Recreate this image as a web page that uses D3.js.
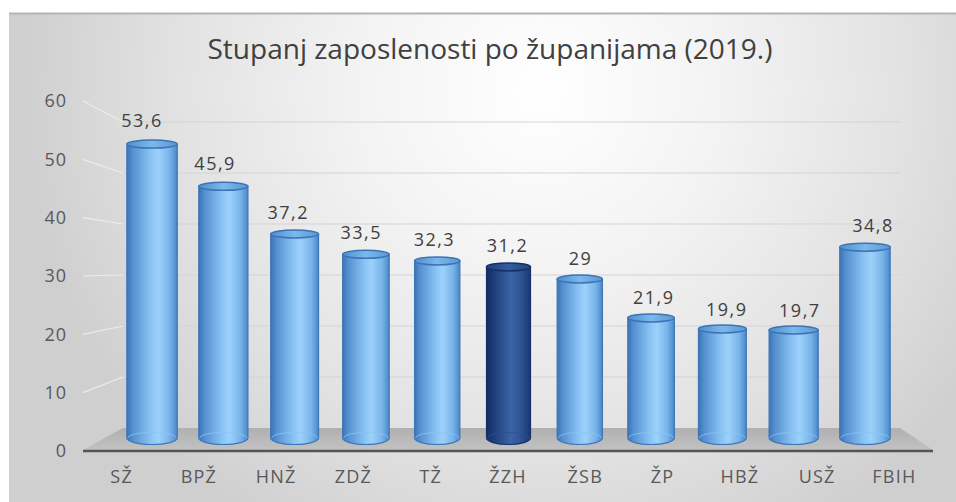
<!DOCTYPE html>
<html><head><meta charset="utf-8">
<script src="https://cdn.jsdelivr.net/npm/d3@7"></script>
<style>html,body{margin:0;padding:0;background:#fff;}svg{display:block;}</style>
</head><body>
<script>
const title = "Stupanj zaposlenosti po županijama (2019.)";
const categories = ["SŽ","BPŽ","HNŽ","ZDŽ","TŽ","ŽZH","ŽSB","ŽP","HBŽ","USŽ","FBIH"];
const values = [53.6,45.9,37.2,33.5,32.3,31.2,29,21.9,19.9,19.7,34.8];
const valueLabels = ["53,6","45,9","37,2","33,5","32,3","31,2","29","21,9","19,9","19,7","34,8"];
const highlighted = ["ŽZH"];
const yTicks = [0,10,20,30,40,50,60];

const W = 956, H = 502;
const svg = d3.select("body").append("svg").attr("width", W).attr("height", H);
const defs = svg.append("defs");

const bg = defs.append("radialGradient").attr("id","bg").attr("gradientUnits","userSpaceOnUse")
  .attr("cx",540).attr("cy",90).attr("r",520).attr("fx",540).attr("fy",90);
bg.append("stop").attr("offset","0%").attr("stop-color","#ffffff");
bg.append("stop").attr("offset","35%").attr("stop-color","#f3f3f3");
bg.append("stop").attr("offset","70%").attr("stop-color","#e2e2e2");
bg.append("stop").attr("offset","100%").attr("stop-color","#cfcfcf");

function cylGrad(id, stops){
  const g = defs.append("linearGradient").attr("id",id).attr("x1","0%").attr("x2","100%").attr("y1","0%").attr("y2","0%");
  stops.forEach(s=>g.append("stop").attr("offset",s[0]).attr("stop-color",s[1]));
}
cylGrad("cyl",[["0%","#3c74b4"],["12%","#5590d0"],["45%","#86c0f2"],["62%","#9dd1fb"],["85%","#78b4e9"],["100%","#4b87c8"]]);
cylGrad("cylH",[["0%","#132c5e"],["15%","#1d3c78"],["55%","#3a64a6"],["75%","#2f5797"],["100%","#1a3873"]]);
cylGrad("topG",[["0%","#4f8fd0"],["50%","#7db8ec"],["100%","#5a98d6"]]);
cylGrad("topH",[["0%","#1f3f7a"],["50%","#335d9e"],["100%","#24467f"]]);

const floorG = defs.append("linearGradient").attr("id","floor").attr("x1","0").attr("x2","0").attr("y1","0").attr("y2","1");
floorG.append("stop").attr("offset","0%").attr("stop-color","#b0b0b0");
floorG.append("stop").attr("offset","100%").attr("stop-color","#c2c2c2");

// background frame
svg.append("rect").attr("x",9).attr("y",13).attr("width",W-9).attr("height",H-13).attr("fill","url(#bg)");
svg.append("line").attr("x1",9).attr("x2",W).attr("y1",13.5).attr("y2",13.5).attr("stroke","#b4b4b4").attr("stroke-width",2);

// scales
const xFront = d3.scaleBand().domain(categories).range([83,933]);
const xBack  = d3.scaleBand().domain(categories).range([123,900]);
const xBar   = d3.scaleBand().domain(categories).range([116.4,900.6]);
const xLab   = d3.scaleBand().domain(categories).range([105.5,909.5]);
const yFront = d3.scaleLinear().domain([0,60]).range([451,101]);
const yBack  = d3.scaleLinear().domain([0,60]).range([428,122]);
const yBar   = d3.scaleLinear().domain([0,60]).range([438,109]);
const yLab   = d3.scaleLinear().domain([0,60]).range([421,84.4]);

// title
svg.append("text").attr("x",490).attr("y",59).attr("text-anchor","middle")
  .attr("font-family","'Open Sans', sans-serif").attr("font-size",28).attr("fill","#404040")
  .text(title);

// back wall gridlines & side wall lines
const grid = svg.append("g");
yTicks.filter(t=>t>0).forEach(t=>{
  grid.append("line").attr("x1",xBack.range()[0]).attr("x2",xBack.range()[1])
    .attr("y1",yBack(t)).attr("y2",yBack(t)).attr("stroke","#d4d4d4").attr("stroke-width",1.2);
  grid.append("line").attr("x1",xFront.range()[0]).attr("x2",xBack.range()[0])
    .attr("y1",yFront(t)).attr("y2",yBack(t)).attr("stroke","#ececec").attr("stroke-width",1.2);
});

// floor
const f0 = xFront.range(), b0 = xBack.range();
svg.append("path").attr("d",`M${f0[0]},${yFront(0)-1}L${b0[0]},${yBack(0)}L${b0[1]},${yBack(0)}L${f0[1]},${yFront(0)-1}Z`)
  .attr("fill","url(#floor)");
svg.append("line").attr("x1",f0[0]).attr("x2",f0[1]).attr("y1",yFront(0)).attr("y2",yFront(0))
  .attr("stroke","#555555").attr("stroke-width",2.5);

// y tick labels
svg.append("g").selectAll("text").data(yTicks).join("text")
  .attr("x",67).attr("y",d=>yFront(d)).attr("dy","0.35em").attr("text-anchor","end")
  .attr("font-family","'Open Sans', sans-serif").attr("font-size",18).attr("letter-spacing",1).attr("fill","#595959")
  .text(d=>d);

// x labels
svg.append("g").selectAll("text").data(categories).join("text")
  .attr("x",d=>xFront(d)+xFront.bandwidth()/2).attr("y",483).attr("text-anchor","middle")
  .attr("font-family","'Open Sans', sans-serif").attr("font-size",18).attr("letter-spacing",1.2).attr("fill","#595959")
  .text(d=>d);

// cylinders
const mid = xBar("ŽZH")+xBar.bandwidth()/2;
const bars = svg.append("g");
categories.forEach((c,i)=>{
  const v = values[i];
  const cx = xBar(c)+xBar.bandwidth()/2;
  const w = 44 + 0.018*Math.abs(cx-mid);
  const rx = w/2, ryT = 4, ryB = 6.5;
  const top = yBar(v), bot = yBar(0);
  const hi = highlighted.includes(c);
  const g = bars.append("g");
  g.append("path")
    .attr("d",`M${cx-rx},${top}L${cx-rx},${bot}A${rx},${ryB} 0 0 0 ${cx+rx},${bot}L${cx+rx},${top}Z`)
    .attr("fill",hi?"url(#cylH)":"url(#cyl)")
    .attr("stroke",hi?"#163066":"#3d77b8").attr("stroke-width",1.2);
  g.append("path")
    .attr("d",`M${cx-rx+1},${bot}A${rx-1},${ryB-1} 0 0 1 ${cx+rx-1},${bot}`)
    .attr("fill","none").attr("stroke",hi?"#2d5090":"#8cc4f2").attr("stroke-width",1).attr("opacity",0.8);
  g.append("ellipse").attr("cx",cx).attr("cy",top).attr("rx",rx).attr("ry",ryT)
    .attr("fill",hi?"url(#topH)":"url(#topG)")
    .attr("stroke",hi?"#163066":"#3b74b3").attr("stroke-width",1.5);
});

// value labels
svg.append("g").selectAll("text").data(categories).join("text")
  .attr("x",d=>xLab(d)+xLab.bandwidth()/2)
  .attr("y",(d,i)=>yLab(values[i])).attr("dy","0.35em").attr("text-anchor","middle")
  .attr("font-family","'Open Sans', sans-serif").attr("font-size",18).attr("letter-spacing",1.5).attr("fill","#404040")
  .text((d,i)=>valueLabels[i]);
</script>
</body></html>
